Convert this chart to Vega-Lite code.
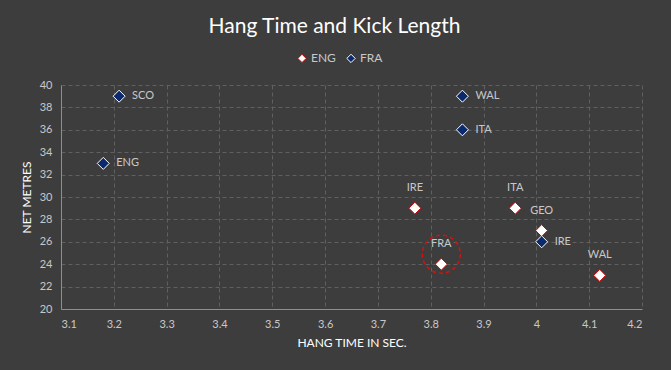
{
  "$schema": "https://vega.github.io/schema/vega-lite/v6.json",
  "width": 581,
  "height": 224,
  "autosize": {"type": "none"},
  "padding": {"left": 61, "top": 85, "right": 29, "bottom": 61},
  "background": "#3d3d3d",
  "title": {
    "text": "Hang Time and Kick Length",
    "color": "#ffffff",
    "font": "Lato",
    "fontSize": 21,
    "fontWeight": "normal",
    "offset": 15,
    "dx": -17
  },
  "data": {
    "values": [
      {"team": "FRA", "opp": "SCO", "hang": 3.21, "metres": 39},
      {"team": "FRA", "opp": "ENG", "hang": 3.18, "metres": 33},
      {"team": "FRA", "opp": "WAL", "hang": 3.86, "metres": 39},
      {"team": "FRA", "opp": "ITA", "hang": 3.86, "metres": 36},
      {"team": "FRA", "opp": "IRE", "hang": 4.01, "metres": 26},
      {"team": "ENG", "opp": "IRE", "hang": 3.77, "metres": 29},
      {"team": "ENG", "opp": "FRA", "hang": 3.82, "metres": 24},
      {"team": "ENG", "opp": "ITA", "hang": 3.96, "metres": 29},
      {"team": "ENG", "opp": "GEO", "hang": 4.01, "metres": 27},
      {"team": "ENG", "opp": "WAL", "hang": 4.12, "metres": 23}
    ]
  },
  "config": {
    "view": {"stroke": null},
    "axis": {
      "labelColor": "#c8c8c8",
      "labelFont": "Lato",
      "labelFontSize": 11,
      "titleColor": "#ffffff",
      "titleFont": "Lato",
      "titleFontSize": 12,
      "titleFontWeight": "normal",
      "gridColor": "#606060",
      "gridDash": [4, 3],
      "gridWidth": 1,
      "domainColor": "#8f8f8f",
      "ticks": false,
      "labelPadding": 9
    },
    "legend": {
      "title": null,
      "orient": "none",
      "direction": "horizontal",
      "legendX": 235,
      "legendY": -33,
      "symbolType": "diamond",
      "symbolSize": 70,
      "symbolStrokeWidth": 1,
      "labelColor": "#c8c8c8",
      "labelFont": "Lato",
      "labelFontSize": 12,
      "columnPadding": 8,
      "labelOffset": 3
    }
  },
  "encoding": {
    "x": {
      "field": "hang",
      "type": "quantitative",
      "scale": {"domain": [3.1, 4.2], "nice": false, "zero": false},
      "axis": {
        "title": "HANG TIME IN SEC.",
        "values": [3.1, 3.2, 3.3, 3.4, 3.5, 3.6, 3.7, 3.8, 3.9, 4, 4.1, 4.2],
        "format": "~g",
        "titlePadding": 8
      }
    },
    "y": {
      "field": "metres",
      "type": "quantitative",
      "scale": {"domain": [20, 40], "nice": false, "zero": false},
      "axis": {
        "title": "NET METRES",
        "values": [20, 22, 24, 26, 28, 30, 32, 34, 36, 38, 40],
        "titlePadding": 6
      }
    }
  },
  "layer": [
    {
      "mark": {"type": "point", "shape": "diamond", "filled": true, "size": 144, "strokeWidth": 1, "opacity": 1},
      "encoding": {
        "fill": {
          "field": "team",
          "type": "nominal",
          "scale": {"domain": ["ENG", "FRA"], "range": ["#ffffff", "#0b2a6e"]}
        },
        "stroke": {
          "field": "team",
          "type": "nominal",
          "scale": {"domain": ["ENG", "FRA"], "range": ["#d00000", "#ffffff"]}
        }
      }
    },
    {
      "transform": [{"filter": "datum.team == 'FRA'"}],
      "mark": {"type": "text", "align": "left", "baseline": "middle", "dx": 13, "color": "#c8c8c8", "font": "Lato", "fontSize": 11},
      "encoding": {"text": {"field": "opp"}}
    },
    {
      "transform": [{"filter": "datum.team == 'ENG'"}],
      "mark": {"type": "text", "align": "center", "baseline": "middle", "dy": -20, "color": "#c8c8c8", "font": "Lato", "fontSize": 11},
      "encoding": {"text": {"field": "opp"}}
    },
    {
      "transform": [{"filter": "datum.team == 'ENG' && datum.opp == 'FRA'"}],
      "mark": {"type": "point", "shape": "circle", "filled": false, "size": 1450, "stroke": "#d81010", "strokeWidth": 1.5, "strokeDash": [4, 3], "opacity": 1, "yOffset": -10}
    }
  ]
}
